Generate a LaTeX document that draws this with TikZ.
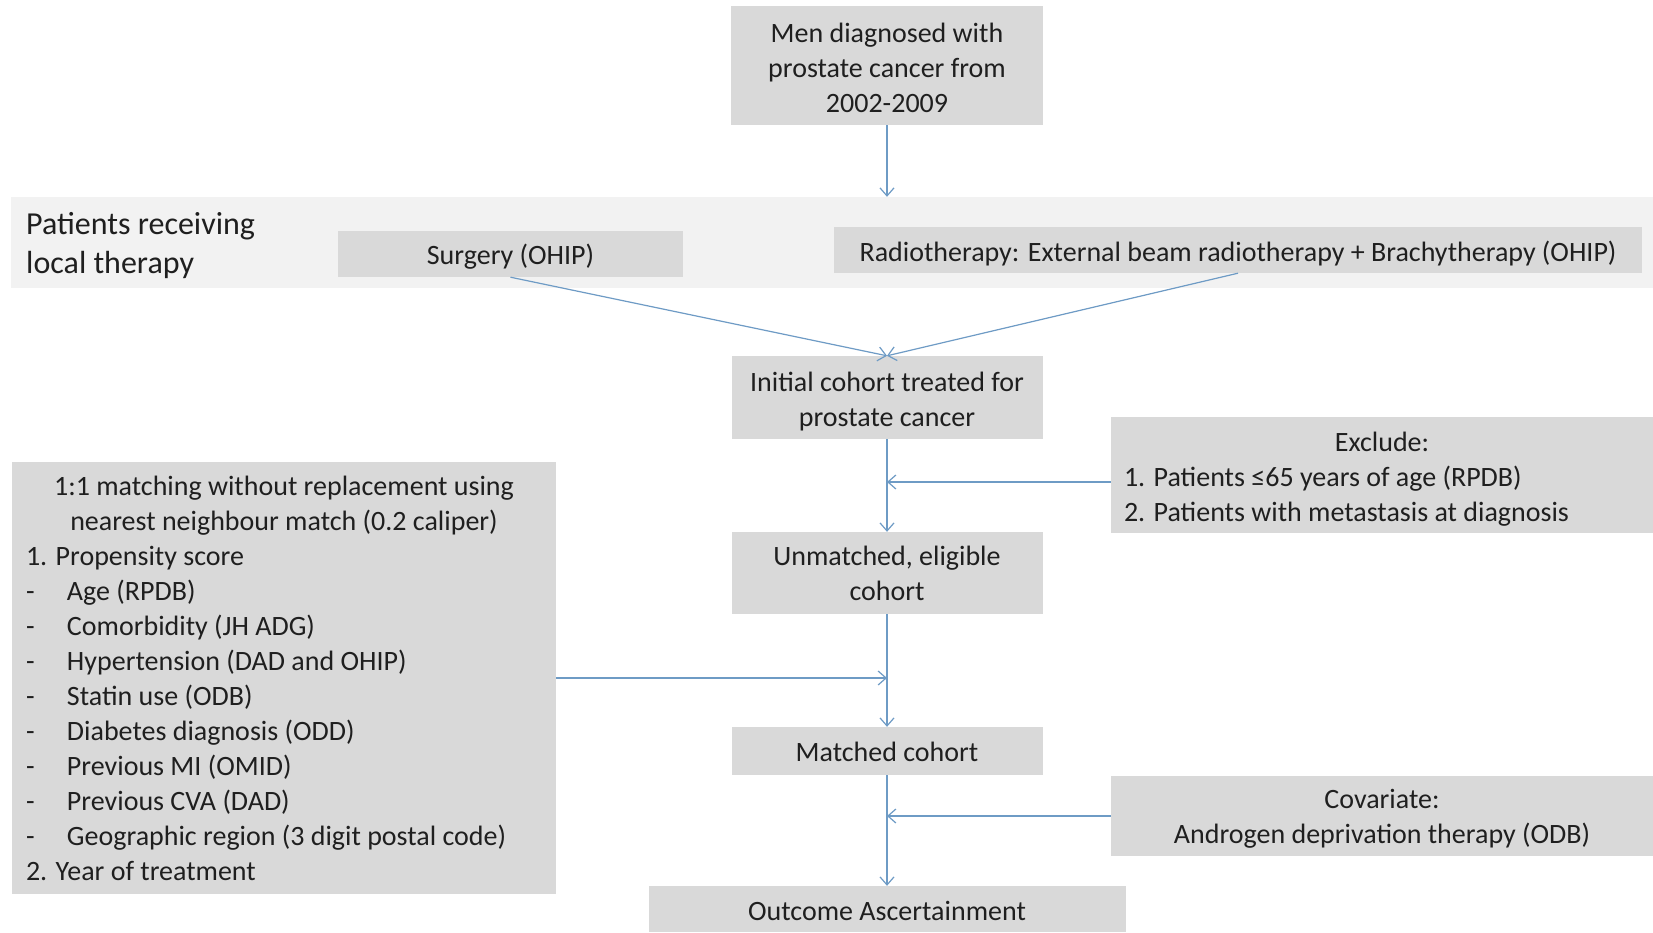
\documentclass[tikz,border=0pt]{standalone}
\usepackage{fontspec}
\setmainfont{Carlito}
\usetikzlibrary{arrows.meta,calc}
\definecolor{boxgray}{HTML}{D9D9D9}
\definecolor{bandgray}{HTML}{F2F2F2}
\definecolor{arrowblue}{HTML}{6E9BC5}
\definecolor{txt}{HTML}{1F1F1F}
\begin{document}
\begin{tikzpicture}[x=1pt,y=-1pt]
\tikzset{
  box/.style={fill=boxgray, draw=none, inner sep=0pt},
  boxtext/.style={inner sep=0pt, text=txt, font=\fontsize{28}{35}\selectfont, align=center},
  flow/.style={draw=arrowblue, line width=1.2pt, -{Straight Barb[length=8pt,width=14pt]}}
}
\useasboundingbox[fill=white] (0,0) rectangle (1653,932);
% band
\node[fill=bandgray, minimum width=1642pt, minimum height=91pt, inner sep=0pt] (band) at (832,242.5) {};
\node[anchor=west, text=txt, font=\fontsize{32}{39}\selectfont, align=left, inner sep=0pt] (lbl) at (26,245.5) {Patients receiving\\local therapy};
% boxes
\node[box, minimum width=312pt, minimum height=119pt] (top) at (887,65.5) {};
\node[boxtext] (top-t) at ($(top.center)+(0,2)$) {Men diagnosed with\\prostate cancer from\\2002-2009};
\node[box, minimum width=345pt, minimum height=46pt] (surg) at (510.5,254) {};
\node[boxtext] (surg-t) at ($(surg.center)+(0,3)$) {Surgery (OHIP)};
\node[box, minimum width=808pt, minimum height=46pt] (radio) at (1238,250) {};
\node[boxtext] (radio-t) at ($(radio.center)+(0,3.5)$) {Radiotherapy: External beam radiotherapy + Brachytherapy (OHIP)};
\node[box, minimum width=311pt, minimum height=83pt] (init) at (887,397.5) {};
\node[boxtext] (init-t) at ($(init.center)+(0,4)$) {Initial cohort treated for\\prostate cancer};
\node[box, minimum width=542pt, minimum height=116pt] (excl) at (1382,475) {};
\node[boxtext] (excl-t) at ($(excl.center)+(0,4)$) {\begin{tabular}{@{}p{516pt}@{}}\multicolumn{1}{@{}c@{}}{Exclude:}\\1. Patients ≤65 years of age (RPDB)\\2. Patients with metastasis at diagnosis\end{tabular}};
\node[box, minimum width=311pt, minimum height=82pt] (unm) at (887,573) {};
\node[boxtext] (unm-t) at ($(unm.center)+(0,0.5)$) {Unmatched, eligible\\cohort};
\node[box, minimum width=544pt, minimum height=432pt] (left) at (284,678) {};
\node[boxtext] (left-t) at ($(left.center)+(0,3)$) {\begin{tabular}{@{}p{41pt}@{}p{475pt}@{}}
\multicolumn{2}{@{}c@{}}{1:1 matching without replacement using}\\
\multicolumn{2}{@{}c@{}}{nearest neighbour match (0.2 caliper)}\\
\multicolumn{2}{@{}l@{}}{1. Propensity score}\\
- & Age (RPDB)\\
- & Comorbidity (JH ADG)\\
- & Hypertension (DAD and OHIP)\\
- & Statin use (ODB)\\
- & Diabetes diagnosis (ODD)\\
- & Previous MI (OMID)\\
- & Previous CVA (DAD)\\
- & Geographic region (3 digit postal code)\\
\multicolumn{2}{@{}l@{}}{2. Year of treatment}
\end{tabular}};
\node[box, minimum width=311pt, minimum height=48pt] (matched) at (887,751) {};
\node[boxtext] (matched-t) at ($(matched.center)+(0,1)$) {Matched cohort};
\node[box, minimum width=542pt, minimum height=80pt] (cov) at (1382,816) {};
\node[boxtext] (cov-t) at ($(cov.center)+(0,3)$) {Covariate:\\Androgen deprivation therapy (ODB)};
\node[box, minimum width=477pt, minimum height=46pt] (outc) at (887,909) {};
\node[boxtext] (outc-t) at ($(outc.center)+(0,2)$) {Outcome Ascertainment};
% connectors
\draw[flow] (top.south) -- (top.south |- band.north);
\draw[flow] (surg.south) -- (init.north);
\draw[flow] (radio.south) -- (init.north);
\draw[flow] (init.south) -- (unm.north);
\coordinate (exin) at ($(excl.west)+(0,7)$);
\draw[flow] (exin) -- (exin -| init.south);
\draw[flow] (left.east) -- (left.east -| init.south);
\draw[flow] (unm.south) -- (matched.north);
\draw[flow] (matched.south) -- (outc.north);
\draw[flow] (cov.west) -- (cov.west -| init.south);
\end{tikzpicture}
\end{document}
